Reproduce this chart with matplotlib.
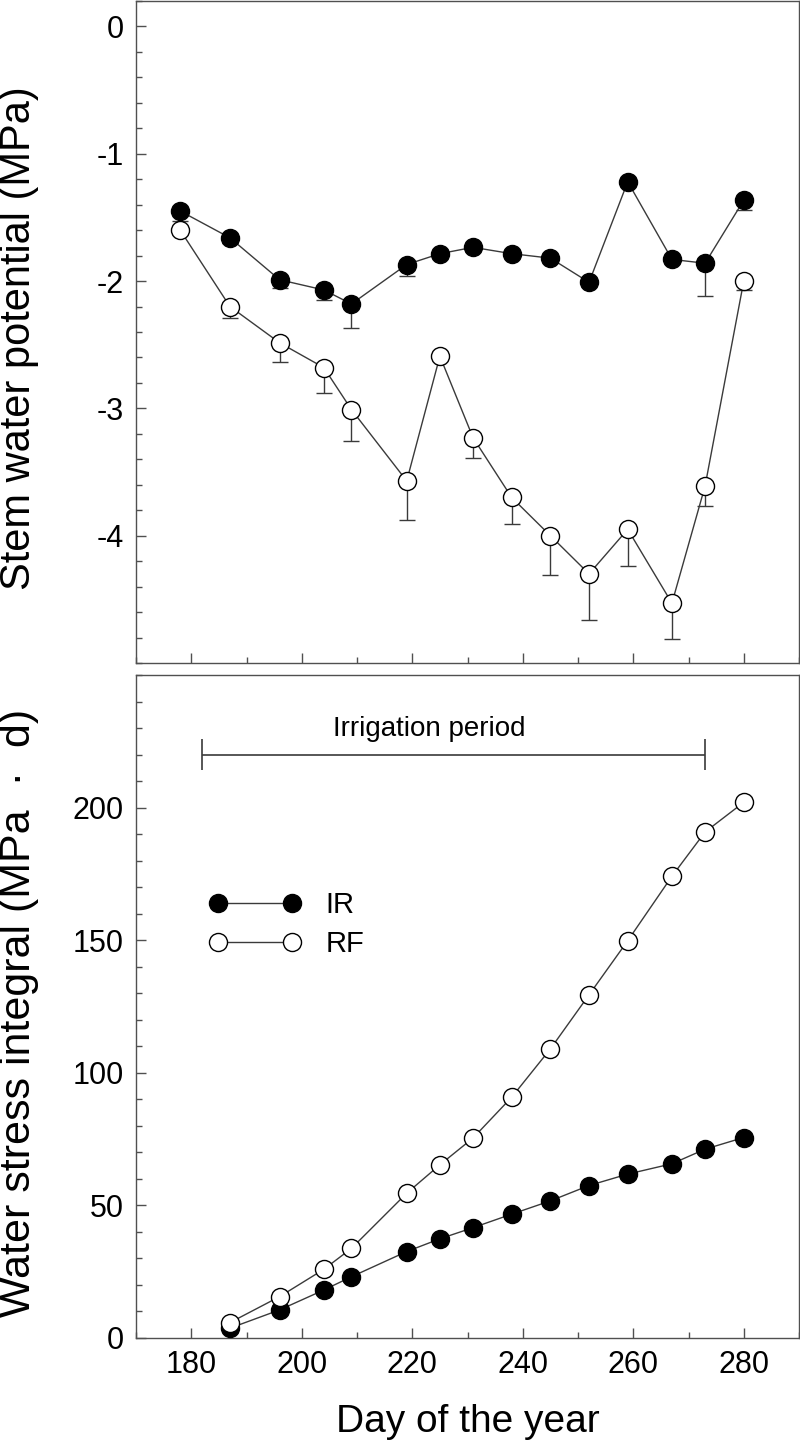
import matplotlib
matplotlib.use('Agg')
import matplotlib.pyplot as plt
from matplotlib.ticker import MultipleLocator

plt.rcParams['font.family'] = ['Liberation Sans', 'DejaVu Sans']
plt.rcParams['axes.unicode_minus'] = False

# ---- data: stem water potential (MPa) ----
days_swp = [178, 187, 196, 204, 209, 219, 225, 231, 238, 245, 252, 259, 267, 273, 280]
ir_swp = [-1.45, -1.66, -1.99, -2.07, -2.18, -1.87, -1.785, -1.735, -1.785, -1.82,
          -2.01, -1.22, -1.83, -1.86, -1.365]
ir_err = [0.08, 0.04, 0.065, 0.08, 0.19, 0.09, 0.03, 0.03, 0.03, 0.03,
          0.03, 0.03, 0.03, 0.26, 0.08]
rf_swp = [-1.60, -2.20, -2.485, -2.68, -3.01, -3.57, -2.59, -3.23, -3.70, -4.00,
          -4.30, -3.95, -4.53, -3.61, -2.00]
rf_err = [0.03, 0.09, 0.15, 0.20, 0.25, 0.31, 0.03, 0.16, 0.21, 0.31,
          0.36, 0.29, 0.28, 0.16, 0.07]

# ---- data: water stress integral (MPa d) ----
days_wsi = [187, 196, 204, 209, 219, 225, 231, 238, 245, 252, 259, 267, 273, 280]
ir_wsi = [3.7, 10.6, 18.1, 23.1, 32.6, 37.4, 41.6, 46.7, 51.7, 57.5, 61.8, 65.7, 71.2, 75.6]
rf_wsi = [5.8, 15.6, 25.9, 33.8, 54.6, 65.3, 75.4, 90.8, 109.0, 129.4, 149.8, 174.1, 190.8, 202.0]

irrig_start, irrig_end, irrig_level, irrig_cap = 182, 273, 220, 6
labels = ['IR', 'RF']

LINE = '#3a3a3a'
SPINE = '#505050'
MS = 13

fig = plt.figure(figsize=(8, 14.48), dpi=100)
ax1 = fig.add_axes([0.17, 0.54213, 0.82875, 0.4572])
ax2 = fig.add_axes([0.17, 0.07597, 0.82875, 0.45787])


def style(ax):
    for s in ax.spines.values():
        s.set_color(SPINE)
        s.set_linewidth(1.0)
    ax.tick_params(which='both', direction='in', color=SPINE, width=1.0,
                   top=False, right=False, labelsize=22, pad=9)
    ax.tick_params(which='major', length=7)
    ax.tick_params(which='minor', length=4)
    ax.set_xlim(170, 290)
    ax.xaxis.set_major_locator(MultipleLocator(20))
    ax.xaxis.set_minor_locator(MultipleLocator(10))


# ---- top panel ----
style(ax1)
zeros = [0] * len(days_swp)
ax1.errorbar(days_swp, ir_swp, yerr=[ir_err, zeros], fmt='none', ecolor=LINE,
             elinewidth=1.0, capsize=6, capthick=1.0, zorder=2)
ax1.errorbar(days_swp, rf_swp, yerr=[rf_err, zeros], fmt='none', ecolor=LINE,
             elinewidth=1.0, capsize=6, capthick=1.0, zorder=2)
ax1.plot(days_swp, ir_swp, '-', color=LINE, lw=1.0, zorder=3)
ax1.plot(days_swp, rf_swp, '-', color=LINE, lw=1.0, zorder=3)
ax1.plot(days_swp, ir_swp, 'o', ms=MS, mfc='black', mec='black', mew=1.0, zorder=4)
ax1.plot(days_swp, rf_swp, 'o', ms=MS, mfc='white', mec='black', mew=1.0, zorder=4)
ax1.set_ylim(-5, 0.2)
ax1.yaxis.set_major_locator(MultipleLocator(1))
ax1.yaxis.set_minor_locator(MultipleLocator(0.2))
ax1.set_yticks([0, -1, -2, -3, -4])
ax1.tick_params(axis='x', labelbottom=False)
ax1.set_ylabel('Stem water potential (MPa)', fontsize=30)
ax1.yaxis.set_label_coords(-0.147, 0.49)

# ---- bottom panel ----
style(ax2)
ax2.plot(days_wsi, ir_wsi, '-o', color=LINE, lw=1.0, ms=MS, mfc='black', mec='black',
         mew=1.0, label=labels[0], zorder=3)
ax2.plot(days_wsi, rf_wsi, '-o', color=LINE, lw=1.0, ms=MS, mfc='white', mec='black',
         mew=1.0, label=labels[1], zorder=3)
ax2.set_ylim(0, 250)
ax2.set_yticks([0, 50, 100, 150, 200])
ax2.yaxis.set_minor_locator(MultipleLocator(10))
ax2.set_ylabel('Water stress integral (MPa  \u00b7  d)', fontsize=31)
ax2.yaxis.set_label_coords(-0.147, 0.49)
ax2.set_xlabel('Day of the year', fontsize=28)
ax2.xaxis.set_label_coords(0.5, -0.1)

# irrigation period bar
ax2.hlines(irrig_level, irrig_start, irrig_end, color=LINE, lw=1.2)
ax2.vlines([irrig_start, irrig_end], irrig_level - irrig_cap, irrig_level + irrig_cap,
           color=LINE, lw=1.2)
ax2.text(223, 227, 'Irrigation period', ha='center', va='baseline', fontsize=20)

leg = ax2.legend(loc='upper left', bbox_to_anchor=(0.11, 0.674), frameon=False,
                 numpoints=2, fontsize=21, handlelength=3.15, handletextpad=0.85,
                 labelspacing=0.38, borderpad=0, borderaxespad=0)

fig.savefig('out.png', dpi=100)
